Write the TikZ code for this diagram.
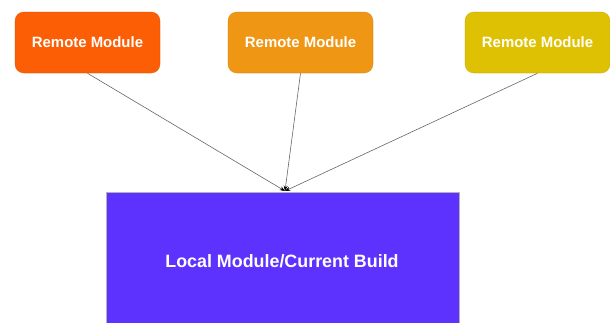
\documentclass[tikz,border=0pt]{standalone}
\usepackage{fontspec}
\setmainfont{Liberation Sans}
\usetikzlibrary{arrows.meta}
\definecolor{remoteA}{HTML}{FC5E06}
\definecolor{remoteB}{HTML}{EF9614}
\definecolor{remoteC}{HTML}{DFC103}
\definecolor{localC}{HTML}{5E32FE}
\tikzset{
  remote/.style={draw=#1!80!black, draw opacity=0.4, fill=#1, rounded corners=6.5pt,
    minimum width=108.75pt, minimum height=45.75pt, inner sep=0pt,
    text=white, font=\bfseries\fontsize{11.2pt}{12pt}\selectfont},
  localbox/.style={draw=gray!60, line width=0.4pt, fill=localC, minimum width=264.75pt,
    minimum height=98pt, inner sep=0pt},
  localtext/.style={text=white, font=\bfseries\fontsize{13.4pt}{16pt}\selectfont},
  link/.style={draw=black!60, line width=0.45pt, -{Stealth[length=4pt,width=3pt,black]}}
}
\begin{document}
\begin{tikzpicture}[x=0.75pt,y=-0.75pt]
  \useasboundingbox (0,0) rectangle (610,322);
  \node[remote=remoteA] (r1) at (87.5,42.5) {Remote Module};
  \node[remote=remoteB] (r2) at (300.5,42.5) {Remote Module};
  \node[remote=remoteC] (r3) at (537.5,42.5) {Remote Module};
  \node[localbox, anchor=north] (loc) at (282.5,192) {};
  \node[localtext] (lt) at (282,261.5) {Local Module/Current Build};
  \coordinate (tgt) at (285,191);
  \draw[link] (r1.south) -- (tgt);
  \draw[link] (r2.south) -- (tgt);
  \draw[link] (r3.south) -- (tgt);
\end{tikzpicture}
\end{document}
